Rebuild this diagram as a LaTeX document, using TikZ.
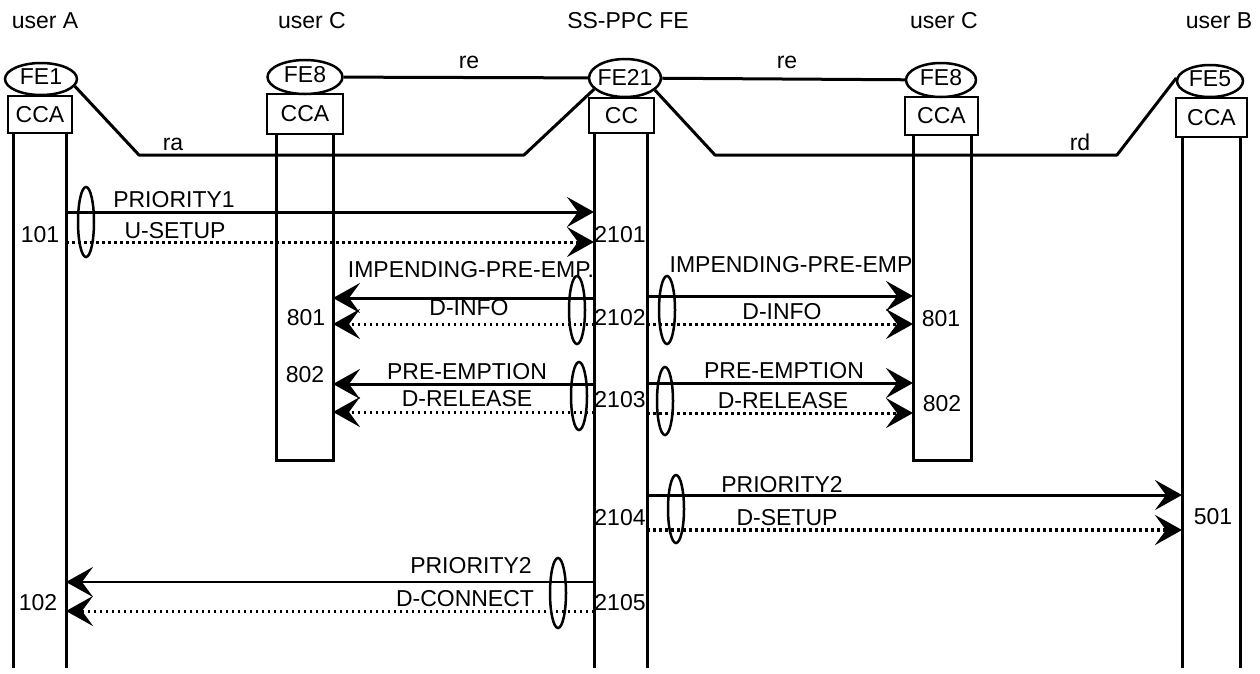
\documentclass[tikz,border=0pt]{standalone}
\usepackage{fontspec}
\setmainfont{Liberation Sans}
\usetikzlibrary{arrows.meta,shapes.geometric,calc}
\begin{document}
\begin{tikzpicture}[x=1pt,y=-1pt,
  txt/.style={font=\fontsize{23}{27}\selectfont, inner sep=0pt, anchor=base},
  fe/.style={draw, ellipse, line width=2.5pt, inner sep=0pt},
  cca/.style={draw, rectangle, line width=2.5pt, inner sep=0pt, font=\fontsize{23}{27}\selectfont},
  life/.style={line width=3pt},
  link/.style={line width=3pt, line join=round},
  msg/.style={line width=3pt, -{Stealth[length=27pt,width=30pt,inset=11pt]}},
  dmsg/.style={msg, dash pattern=on 2.5pt off 3.5pt},
  grp/.style={line width=2.5pt}]
\useasboundingbox (0,0) rectangle (1260,673);

% headers
\node[txt] (hA) at (45,28) {user A};
\node[txt] (hC1) at (312,28) {user C};
\node[txt] (hS) at (628,28) {SS-PPC FE};
\node[txt] (hC2) at (944,28) {user C};
\node[txt] (hB) at (1219,28) {user B};

% FE ellipses
\node[fe, minimum width=72pt, minimum height=32pt] (fe1) at (41,79) {};
\node[fe, minimum width=75pt, minimum height=34pt] (fe8a) at (305,77) {};
\node[fe, minimum width=72pt, minimum height=38pt] (fe21) at (625,78) {};
\node[fe, minimum width=70pt, minimum height=34pt] (fe8b) at (941,80) {};
\node[fe, minimum width=66pt, minimum height=32pt] (fe5) at (1210,81) {};
\node[txt, anchor=center] (lfe1) at (41,77) {FE1};
\node[txt, anchor=center] (lfe8a) at (305,75) {FE8};
\node[txt, anchor=center] (lfe21) at (625,77) {FE21};
\node[txt, anchor=center] (lfe8b) at (941,78) {FE8};
\node[txt, anchor=center] (lfe5) at (1210,79) {FE5};

% CCA boxes
\node[cca, minimum width=64pt, minimum height=37pt] (ccaA) at (40,114.5) {CCA};
\node[cca, minimum width=76pt, minimum height=40pt] (ccaC1) at (305,114) {CCA};
\node[cca, minimum width=65pt, minimum height=35pt] (ccS) at (621.5,115.5) {CC};
\node[cca, minimum width=73pt, minimum height=38pt] (ccaC2) at (941.5,116) {CCA};
\node[cca, minimum width=71pt, minimum height=39pt] (ccaB) at (1211.5,117.5) {CCA};

% lifelines
\coordinate (Al) at (13,133);
\coordinate (Ar) at (66,133);
\coordinate (C1l) at (276,134);
\coordinate (C1r) at (333,134);
\coordinate (Sl) at (594,133);
\coordinate (Sr) at (647,133);
\coordinate (C2l) at (913,135);
\coordinate (C2r) at (971,135);
\coordinate (Bl) at (1182,137);
\coordinate (Br) at (1240,137);
\draw[life] (Al) -- (Al |- 0,668);
\draw[life] (Ar) -- (Ar |- 0,668);
\draw[life] (C1l) -- (C1l |- 0,460) -- (C1r |- 0,460) -- (C1r);
\draw[life] (Sl) -- (Sl |- 0,668);
\draw[life] (Sr) -- (Sr |- 0,668);
\draw[life] (C2l) -- (C2l |- 0,460) -- (C2r |- 0,460) -- (C2r);
\draw[life] (Bl) -- (Bl |- 0,668);
\draw[life] (Br) -- (Br |- 0,668);

% relationships
\draw[link] (fe1.-12) -- (139,155) -- (524,155) -- (fe21.-160);
\draw[link] (fe8a) -- (fe21);
\draw[link] (fe21) -- (fe8b);
\draw[link] (fe21.-22) -- (715,155) -- (1117,155) -- (fe5.175);
\node[txt] (lra) at (173,150) {ra};
\node[txt] (lre1) at (469,68) {re};
\node[txt] (lre2) at (787,68) {re};
\node[txt] (lrd) at (1080,150) {rd};

% messages
\draw[msg] (Ar |- 0,212) -- (Sl |- 0,212);
\draw[dmsg] (Ar |- 0,242) -- (Sl |- 0,242);
\draw[msg] (Sl |- 0,298) -- (C1r |- 0,298);
\draw[dmsg] (Sl |- 0,324) -- (C1r |- 0,324);
\draw[msg] (Sl |- 0,384) -- (C1r |- 0,384);
\draw[dmsg] (Sl |- 0,412) -- (C1r |- 0,412);
\draw[msg] (Sr |- 0,296) -- (C2l |- 0,296);
\draw[dmsg] (Sr |- 0,324) -- (C2l |- 0,324);
\draw[msg] (Sr |- 0,383) -- (C2l |- 0,383);
\draw[dmsg] (Sr |- 0,413) -- (C2l |- 0,413);
\draw[msg] (Sr |- 0,495) -- (Bl |- 0,495);
\draw[dmsg, line width=4pt] (Sr |- 0,530) -- (Bl |- 0,530);
\draw[msg, line width=2.5pt] (Sl |- 0,582) -- (Ar |- 0,582);
\draw[dmsg] (Sl |- 0,611) -- (Ar |- 0,611);

% grouping ellipses
\draw[grp] (86,222) ellipse [x radius=8, y radius=35];
\draw[grp] (577,310) ellipse [x radius=8, y radius=34];
\draw[grp] (579,396) ellipse [x radius=8, y radius=34];
\draw[grp] (667,310) ellipse [x radius=8, y radius=34];
\draw[grp] (665,401) ellipse [x radius=8, y radius=34];
\draw[grp] (676,509) ellipse [x radius=8, y radius=34];
\draw[grp] (558,593) ellipse [x radius=8, y radius=35];

% message labels
\node[txt] (m1) at (174,207) {PRIORITY1};
\node[txt] (m2) at (175,238) {U-SETUP};
\node[txt] (n101) at (40,242) {101};
\node[txt] (n2101) at (620,242) {2101};
\node[txt] (m3) at (471,277) {IMPENDING-PRE-EMP.};
\node[txt] (m4) at (469,315) {D-INFO};
\node[txt] (n801a) at (306,325) {801};
\node[txt] (n2102) at (620,325) {2102};
\node[txt] (m5) at (467,379) {PRE-EMPTION};
\node[txt] (n802a) at (305,382) {802};
\node[txt] (m6) at (467,406) {D-RELEASE};
\node[txt] (n2103) at (620,407) {2103};
\node[txt] (m7) at (791,272) {IMPENDING-PRE-EMP};
\node[txt] (m8) at (782,319) {D-INFO};
\node[txt] (n801b) at (941,326) {801};
\node[txt] (m9) at (784,378) {PRE-EMPTION};
\node[txt] (m10) at (783,408) {D-RELEASE};
\node[txt] (n802b) at (942,411) {802};
\node[txt] (m11) at (782,492) {PRIORITY2};
\node[txt] (m12) at (787,525) {D-SETUP};
\node[txt] (n2104) at (620,525) {2104};
\node[txt] (n501) at (1213,524) {501};
\node[txt] (m13) at (471,573) {PRIORITY2};
\node[txt] (m14) at (465,606) {D-CONNECT};
\node[txt] (n102) at (38,610) {102};
\node[txt] (n2105) at (620,610) {2105};
\end{tikzpicture}
\end{document}
